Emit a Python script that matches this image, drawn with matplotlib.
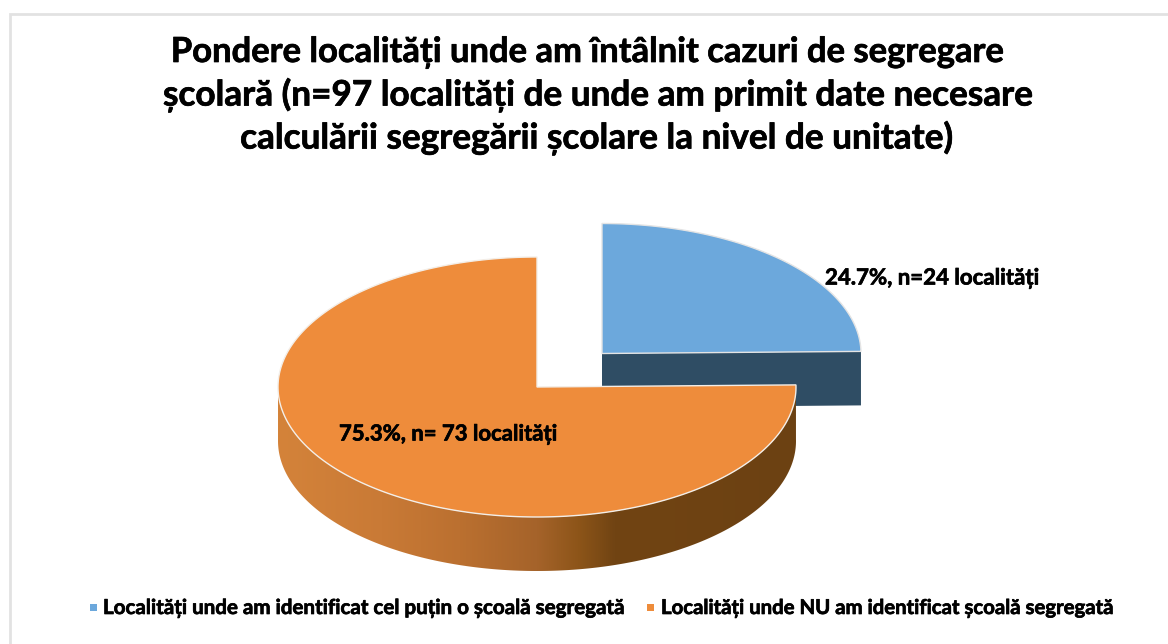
"""Pie 3D: pondere localitati cu segregare scolara."""
import matplotlib
matplotlib.use("Agg")
import matplotlib.pyplot as plt
from matplotlib.colors import LinearSegmentedColormap
from matplotlib.patches import Polygon, Rectangle
import matplotlib.patheffects as pe
import numpy as np

plt.rcParams["font.family"] = ["Lato", "Open Sans", "DejaVu Sans"]
plt.rcParams["font.weight"] = "bold"

title_lines = ["Pondere localități unde am întâlnit cazuri de segregare",
               "școlară (n=97 localități de unde am primit date necesare",
               "calculării segregării școlare la nivel de unitate)"]
counts = [24, 73]
slice_labels = ["24.7%, n=24 localități", "75.3%, n= 73 localități"]
legend_labels = ["Localități unde am identificat cel puțin o școală segregată",
                 "Localități unde NU am identificat școală segregată"]

BLUE, ORANGE, BLUE_DARK = "#6ca8dc", "#ee8c3b", "#2f4d64"
RX, RY, DEPTH = 259, 130, 54
BLUE_C = (602, 353.5)
ORANGE_C = (537, 387)

# unghiuri din valori, ceas, de la ora 12
split = 360 * counts[0] / sum(counts)


def arc(center, a0, a1, drop=0):
    th = np.radians(np.linspace(a0, a1, 240))
    return np.column_stack([center[0] + RX * np.sin(th),
                            center[1] - RY * np.cos(th) + drop])


fig = plt.figure(figsize=(11.68, 6.44), dpi=100)
ax = fig.add_axes([0, 0, 1, 1])
ax.set_xlim(0, 1168)
ax.set_ylim(644, 0)
ax.axis("off")

ax.add_patch(Rectangle((10, 14), 1170, 660, fc="white", ec="#e2e2e2", lw=2))

# felia albastra: peretele taiat, apoi fata
end = arc(BLUE_C, split, split)[0]
wall = [BLUE_C, end, (end[0], end[1] + DEPTH), (BLUE_C[0], BLUE_C[1] + DEPTH)]
ax.add_patch(Polygon(wall, fc=BLUE_DARK, ec="none", zorder=2))
top = np.vstack([[BLUE_C], arc(BLUE_C, 0, split)])
ax.add_patch(Polygon(top, fc=BLUE, ec="#e4e4e4", lw=1, zorder=3))

# felia portocalie: perete cu gradient, apoi fata
rim = arc(ORANGE_C, split, 270)
rim_low = arc(ORANGE_C, 270, split, drop=DEPTH)
clip = Polygon(np.vstack([rim, rim_low]), transform=ax.transData, fc="none", ec="none")
ax.add_patch(clip)
cmap = LinearSegmentedColormap.from_list("side", [
    (0.0, "#d4833a"), (0.2, "#c97a36"), (0.35, "#bb7030"), (0.5, "#a5632a"),
    (0.58, "#8d5519"), (0.65, "#714413"), (1.0, "#6c4112")])
grad = ax.imshow(np.linspace(0, 1, 256)[None, :], extent=(278, 796, 580, 380),
                 cmap=cmap, aspect="auto", zorder=4)
grad.set_clip_path(clip)
top = np.vstack([[ORANGE_C], arc(ORANGE_C, split, 360)])
ax.add_patch(Polygon(top, fc=ORANGE, ec="#f3eee8", lw=1, zorder=5))
ax.set_xlim(0, 1168)
ax.set_ylim(644, 0)

# Lato bold e mai subtire decat originalul, ingrosat cu un contur fin
heavy = [pe.withStroke(linewidth=0.5, foreground="black")]
for line, x, y, size in zip(title_lines, [588, 597.5, 596], [52, 95, 138], [24.9, 25.3, 25.3]):
    ax.text(x, y, line, ha="center", va="center", fontsize=size, color="black",
            zorder=6, path_effects=heavy)
ax.text(825, 278, slice_labels[0], ha="left", va="center", fontsize=16, zorder=6, path_effects=heavy)
ax.text(339, 434, slice_labels[1], ha="left", va="center", fontsize=15.9, zorder=6, path_effects=heavy)

ax.add_patch(Rectangle((90, 604), 7, 7, fc=BLUE, ec="none"))
ax.text(103, 608, legend_labels[0], ha="left", va="center", fontsize=14.8, path_effects=heavy)
ax.add_patch(Rectangle((647, 604), 7, 7, fc=ORANGE, ec="none"))
ax.text(661, 608, legend_labels[1], ha="left", va="center", fontsize=14.65, path_effects=heavy)

fig.savefig("out.png", dpi=100)
